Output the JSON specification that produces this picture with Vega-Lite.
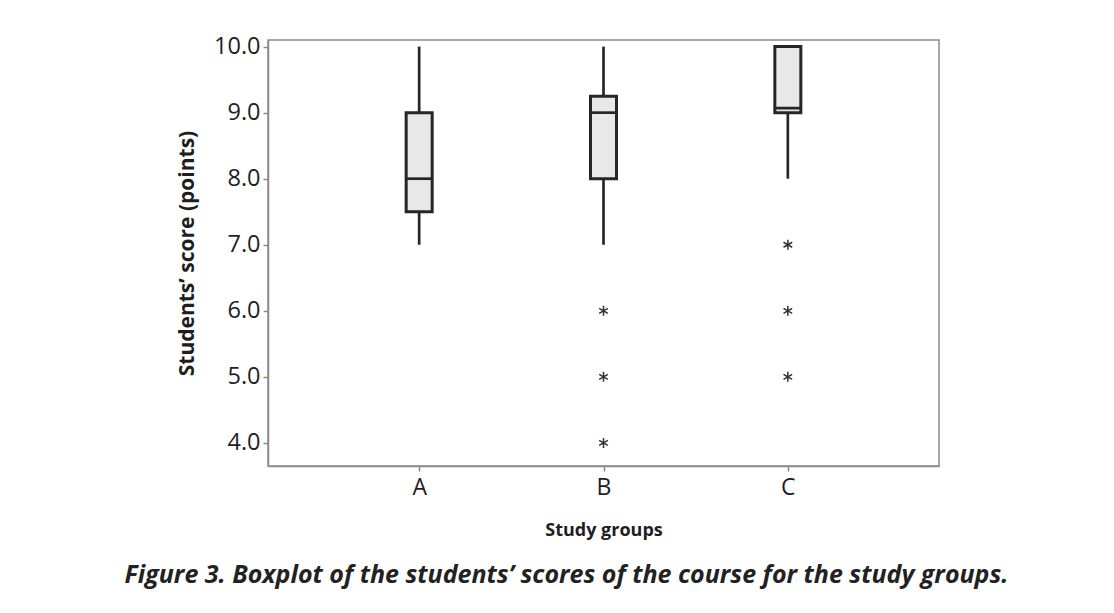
{
  "$schema": "https://vega.github.io/schema/vega-lite/v6.json",
  "width": 671,
  "height": 426,
  "autosize": {"type": "none"},
  "padding": {"left": 268, "top": 40, "right": 175, "bottom": 147},
  "background": "white",
  "config": {
    "view": {"stroke": "#8a8a8a", "strokeWidth": 1.5},
    "font": "Open Sans"
  },
  "title": {
    "text": "Figure 3. Boxplot of the students’ scores of the course for the study groups.",
    "orient": "bottom",
    "anchor": "middle",
    "frame": "group",
    "font": "Open Sans",
    "fontSize": 25,
    "fontStyle": "italic",
    "fontWeight": "bold",
    "color": "#222222",
    "offset": 24,
    "dx": -37
  },
  "datasets": {
    "boxes": [
      {"group": "A", "lower": 7.0, "q1": 7.5, "median": 8.0, "q3": 9.0, "upper": 10.0},
      {"group": "B", "lower": 7.0, "q1": 8.0, "median": 9.0, "q3": 9.25, "upper": 10.0},
      {"group": "C", "lower": 8.0, "q1": 9.0, "median": 9.07, "q3": 10.0, "upper": 10.0}
    ],
    "outliers": [
      {"group": "B", "score": 6.0},
      {"group": "B", "score": 5.0},
      {"group": "B", "score": 4.0},
      {"group": "C", "score": 7.0},
      {"group": "C", "score": 6.0},
      {"group": "C", "score": 5.0}
    ]
  },
  "encoding": {
    "x": {
      "field": "group",
      "type": "nominal",
      "scale": {"type": "point", "domain": ["A", "B", "C"], "padding": 0.82},
      "axis": {
        "title": "Study groups",
        "labelAngle": 0,
        "labelFont": "Open Sans",
        "labelFontSize": 23,
        "labelColor": "#1e1e1e",
        "labelPadding": 5,
        "domainColor": "#8a8a8a",
        "domainWidth": 1.5,
        "tickColor": "#8a8a8a",
        "tickWidth": 1.5,
        "tickSize": 5,
        "titleFont": "Open Sans",
        "titleFontSize": 18,
        "titleFontWeight": "bold",
        "titleColor": "#1e1e1e",
        "titleX": 335.5,
        "titleY": 69,
        "titleAlign": "center",
        "titleBaseline": "alphabetic"
      }
    }
  },
  "layer": [
    {
      "data": {"name": "boxes"},
      "mark": {"type": "rule", "color": "#262626", "strokeWidth": 2.7},
      "encoding": {
        "y": {
          "field": "lower",
          "type": "quantitative",
          "scale": {"domain": [3.65, 10.1], "nice": false, "zero": false},
          "axis": {
            "title": "Students’ score (points)",
            "values": [4, 5, 6, 7, 8, 9, 10],
            "format": ".1f",
            "grid": false,
            "labelFont": "Open Sans",
            "labelFontSize": 23.5,
            "labelColor": "#1e1e1e",
            "labelPadding": 3,
            "domainColor": "#8a8a8a",
            "domainWidth": 1.5,
            "tickColor": "#8a8a8a",
            "tickWidth": 1.5,
            "tickSize": 5,
            "titleFont": "Open Sans",
            "titleFontSize": 21,
            "titleFontWeight": "bold",
            "titleColor": "#1e1e1e",
            "titleAngle": -90,
            "titleX": -75,
            "titleY": 213,
            "titleAlign": "center",
            "titleBaseline": "alphabetic"
          }
        },
        "y2": {"field": "upper"}
      }
    },
    {
      "data": {"name": "boxes"},
      "mark": {"type": "bar", "width": 26, "fill": "#e8e8e8", "stroke": "#262626", "strokeWidth": 3},
      "encoding": {
        "y": {"field": "q1", "type": "quantitative"},
        "y2": {"field": "q3"}
      }
    },
    {
      "data": {"name": "boxes"},
      "mark": {"type": "tick", "size": 28, "thickness": 2.7, "color": "#262626", "opacity": 1},
      "encoding": {
        "y": {"field": "median", "type": "quantitative"}
      }
    },
    {
      "data": {"name": "outliers"},
      "mark": {
        "type": "point",
        "shape": "M0,-1L0,1M-0.866,-0.5L0.866,0.5M-0.866,0.5L0.866,-0.5",
        "size": 100,
        "filled": false,
        "stroke": "#333333",
        "strokeWidth": 1.5,
        "opacity": 1
      },
      "encoding": {
        "y": {"field": "score", "type": "quantitative"}
      }
    }
  ]
}
